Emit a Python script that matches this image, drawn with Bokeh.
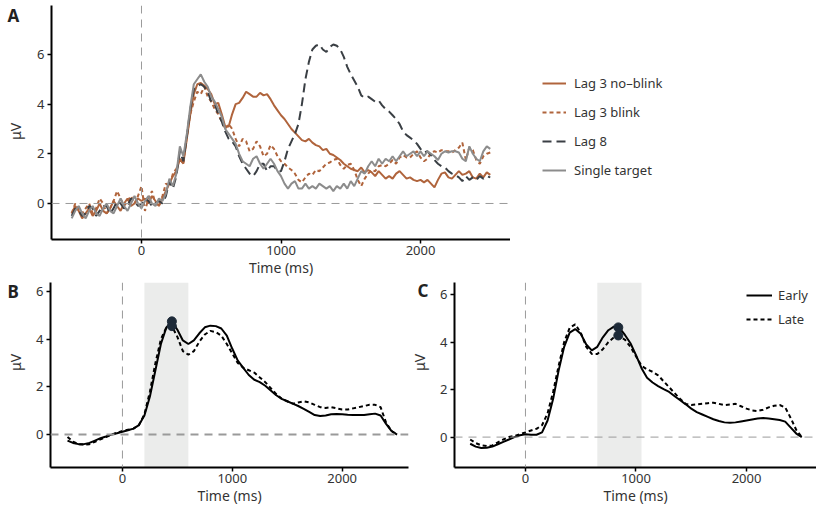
import math
from bokeh.plotting import figure
from bokeh.layouts import column, row
from bokeh.models import Span, Label, Legend, LegendItem, BoxAnnotation, Range1d, FixedTicker
from bokeh.embed import file_html
from bokeh.resources import INLINE

FONT = "Noto Sans"
TXT = "#333333"

# ---------------- Panel A data (25 ms grid, -500..2500) ----------------
time_a = list(range(-500, 2501, 25))

lag3_noblink = [
    -0.4, -0.1, -0.3, -0.6, -0.4, -0.2, -0.5, -0.3, 0.0, -0.3, -0.4, -0.2, 0.1, -0.1, -0.3, 0.0, 0.2, -0.1, 0.0, 0.2,
    0.1, 0.2, 0.0, 0.3, 0.1, -0.1, 0.2, 0.5, 0.8, 1.1, 1.3, 1.8, 1.6, 2.6, 3.6, 4.4, 4.8, 4.85, 4.75, 4.6,
    4.4, 4.0, 4.05, 3.6, 3.1, 3.1, 3.6, 4.0, 4.05, 4.25, 4.5, 4.4, 4.3, 4.3, 4.45, 4.35, 4.4, 4.2, 3.95, 3.75,
    3.55, 3.4, 3.2, 3.0, 2.85, 2.7, 2.55, 2.5, 2.6, 2.45, 2.35, 2.3, 2.15, 2.2, 2.0, 1.95, 1.85, 1.75, 1.6, 1.5,
    1.4, 1.35, 1.3, 1.45, 1.25, 1.35, 1.25, 1.1, 1.3, 1.15, 1.0, 1.1, 1.0, 1.2, 1.3, 1.15, 1.0, 1.05, 0.95, 0.9,
    0.95, 0.85, 0.95, 0.8, 0.65, 0.95, 1.2, 1.25, 1.05, 1.0, 1.15, 1.3, 1.15, 1.2, 1.3, 1.05, 1.0, 1.2, 1.05, 1.25,
    1.15]

lag3_blink = [
    -0.4, 0.0, -0.2, -0.4, -0.2, 0.0, -0.4, -0.2, 0.2, 0.0, -0.4, -0.2, 0.1, 0.5, 0.2, -0.1, 0.1, 0.3, 0.0, 0.3,
    0.7, -0.3, 0.2, 0.5, 0.0, -0.1, 0.3, 0.8, 0.7, 1.2, 1.4, 1.8, 1.6, 2.7, 3.6, 4.1, 4.5, 4.4, 4.7, 4.3,
    4.1, 3.8, 3.6, 3.3, 3.0, 3.2, 3.0, 2.6, 2.3, 2.6, 2.5, 2.1, 2.2, 2.5, 2.3, 1.9, 2.0, 2.35, 2.2, 1.9,
    1.7, 1.6, 1.45, 1.35, 1.2, 0.95, 0.85, 1.05, 1.2, 1.15, 1.35, 1.3, 1.45, 1.6, 1.65, 1.75, 1.8, 1.55, 1.4, 1.55,
    1.6, 1.35, 0.95, 0.7, 1.0, 1.2, 1.35, 1.3, 1.5, 1.55, 1.5, 1.6, 1.75, 1.6, 1.85, 1.95, 1.85, 1.85, 2.0, 2.1,
    1.85, 1.7, 1.8, 2.05, 2.1, 2.05, 2.15, 2.1, 2.1, 2.05, 2.15, 2.25, 2.45, 1.75, 2.25, 2.15, 1.75, 1.6, 1.9, 2.0,
    2.05]

lag8 = [
    -0.5, -0.2, -0.3, -0.5, -0.4, -0.1, -0.2, -0.5, -0.3, -0.1, -0.1, -0.4, -0.2, 0.1, 0.0, -0.2, -0.1, 0.2, 0.1, -0.1,
    0.0, 0.2, 0.1, -0.1, 0.0, 0.1, 0.0, 0.3, 0.9, 0.6, 1.1, 2.1, 1.7, 2.7, 3.8, 4.6, 4.7, 4.8, 4.7, 4.5,
    4.1, 4.0, 3.6, 3.3, 2.9, 2.6, 2.5, 2.3, 1.9, 1.6, 1.4, 1.2, 1.1, 1.3, 1.6, 1.6, 1.3, 1.5, 1.5, 1.3,
    1.3, 1.7, 2.2, 2.5, 2.8, 3.2, 4.0, 5.0, 5.7, 6.2, 6.35, 6.4, 6.2, 6.1, 6.3, 6.4, 6.35, 6.2, 5.9, 5.5,
    5.2, 4.95, 4.7, 4.35, 4.25, 4.3, 4.2, 4.1, 4.15, 3.95, 3.8, 3.7, 3.55, 3.4, 3.2, 2.9, 2.75, 2.65, 2.55, 2.4,
    2.2, 2.05, 2.1, 1.95, 1.75, 1.6, 1.5, 1.45, 1.3, 1.2, 1.15, 1.05, 0.9, 1.1, 0.95, 1.05, 0.95, 1.1, 1.0, 1.1,
    1.05]

single_target = [
    -0.6, -0.3, -0.1, -0.4, -0.6, -0.3, -0.1, -0.4, -0.5, -0.2, 0.0, -0.3, -0.4, -0.1, 0.2, -0.1, -0.3, 0.0, 0.3, 0.0,
    -0.2, 0.1, 0.3, 0.0, -0.1, 0.2, 0.1, 0.4, 1.0, 0.7, 1.2, 2.3, 1.9, 2.8, 3.9, 4.8, 5.0, 5.2, 4.9, 4.7,
    4.3, 4.1, 3.8, 3.5, 3.0, 2.8, 2.6, 2.4, 2.0, 1.7, 1.6, 1.5, 1.8, 1.9, 1.6, 1.4, 1.6, 1.8, 1.6, 1.3,
    1.1, 0.8, 0.6, 0.8, 0.9, 0.6, 0.6, 0.8, 0.6, 0.7, 0.6, 0.8, 0.7, 0.6, 0.7, 0.5, 0.7, 0.6, 0.8, 0.6,
    0.9, 0.7, 1.0, 1.3, 1.2, 1.5, 1.7, 1.5, 1.8, 1.6, 1.8, 1.7, 1.9, 1.7, 1.9, 2.1, 1.9, 2.0, 2.1, 1.9,
    2.1, 1.9, 2.1, 2.0, 1.9, 1.75, 2.0, 2.1, 2.05, 2.1, 2.1, 2.05, 1.8, 1.7, 2.3, 2.0, 1.8, 1.7, 2.1, 2.3,
    2.2]

# ---------------- Panels B and C data (50 ms grid) ----------------
time_bc = list(range(-500, 2501, 50))

b_early = [
    -0.25, -0.35, -0.4, -0.4, -0.35, -0.25, -0.15, -0.08, 0.0, 0.06, 0.12, 0.18, 0.25, 0.4, 0.8, 1.6, 2.7, 3.8, 4.5, 4.75,
    4.4, 3.95, 3.8, 3.95, 4.25, 4.5, 4.57, 4.55, 4.45, 4.15, 3.6, 3.1, 2.8, 2.5, 2.3, 2.2, 2.05, 1.85, 1.65, 1.5,
    1.4, 1.3, 1.2, 1.08, 0.95, 0.82, 0.78, 0.8, 0.85, 0.86, 0.85, 0.83, 0.82, 0.82, 0.82, 0.85, 0.88, 0.8, 0.45, 0.15,
    0.0]
b_late = [
    -0.1, -0.3, -0.4, -0.42, -0.4, -0.3, -0.2, -0.1, 0.0, 0.08, 0.15, 0.2, 0.25, 0.4, 0.85, 1.8, 3.0, 4.0, 4.5, 4.55,
    4.1, 3.5, 3.35, 3.5, 3.9, 4.2, 4.35, 4.3, 4.15, 3.8, 3.4, 3.0, 2.8, 2.7, 2.6, 2.4, 2.2, 1.95, 1.7, 1.5,
    1.4, 1.3, 1.35, 1.4, 1.35, 1.25, 1.15, 1.12, 1.15, 1.1, 1.05, 1.05, 1.1, 1.15, 1.2, 1.25, 1.25, 1.15, 0.5, 0.15,
    0.0]
c_early = [
    -0.28, -0.4, -0.46, -0.45, -0.4, -0.3, -0.2, -0.1, 0.0, 0.08, 0.12, 0.1, 0.1, 0.2, 0.7, 1.6, 2.8, 3.8, 4.4, 4.55,
    4.35, 3.9, 3.65, 3.8, 4.2, 4.5, 4.65, 4.6, 4.3, 3.95, 3.45, 2.9, 2.5, 2.3, 2.15, 2.02, 1.9, 1.72, 1.55, 1.38,
    1.2, 1.05, 0.95, 0.85, 0.75, 0.68, 0.62, 0.6, 0.62, 0.66, 0.7, 0.74, 0.78, 0.8, 0.78, 0.75, 0.72, 0.65, 0.4, 0.15,
    0.0]
c_late = [
    -0.1, -0.25, -0.35, -0.38, -0.35, -0.22, -0.1, 0.0, 0.05, 0.12, 0.2, 0.28, 0.35, 0.5, 1.0, 1.9, 3.0, 4.0, 4.6, 4.75,
    4.4, 3.8, 3.5, 3.5, 3.7, 4.0, 4.2, 4.25, 4.1, 3.8, 3.4, 3.0, 2.85, 2.75, 2.6, 2.35, 2.1, 1.85, 1.6, 1.4,
    1.35, 1.38, 1.4, 1.43, 1.45, 1.4, 1.35, 1.37, 1.4, 1.3, 1.2, 1.12, 1.1, 1.15, 1.25, 1.32, 1.35, 1.25, 0.8, 0.3,
    0.0]

b_window = (200, 600)
b_peak_t = [450, 450]
b_peak_v = [4.75, 4.55]
c_window = (650, 1050)
c_peak_t = [840, 840]
c_peak_v = [4.62, 4.28]

x_ticks = [0, 1000, 2000]
y_ticks = [0, 2, 4, 6]
series_a = ["Lag 3 no\u2013blink", "Lag 3 blink", "Lag 8", "Single target"]
series_bc = ["Early", "Late"]

BROWN = "#b0643c"
DARK = "#3a3f44"
GREY = "#8c8c8c"
ZERO = "#9a9a9a"
STYLE_A = [dict(line_color=BROWN, line_width=2),
           dict(line_color=BROWN, line_width=2, line_dash="4 3"),
           dict(line_color=DARK, line_width=2, line_dash="9 5"),
           dict(line_color=GREY, line_width=2)]

# layout (pixels): row 1 frame spans y 5..239, row 2 frame spans y 282..467
H1, TOP1, BOT1 = 279, 5, 239
H2, TOP2, BOT2 = 228, 282, 467


def style(p):
    p.outline_line_color = None
    p.xgrid.visible = False
    p.ygrid.visible = False
    for ax in (p.xaxis[0], p.yaxis[0]):
        ax.axis_line_width = 2
        ax.axis_line_color = "black"
        ax.major_tick_line_color = "black"
        ax.major_tick_line_width = 1.5
        ax.major_tick_out = 4
        ax.major_tick_in = 0
        ax.minor_tick_line_color = None
        ax.major_label_text_font = FONT
        ax.major_label_text_font_size = "13px"
        ax.major_label_text_color = TXT
        ax.axis_label_text_font = FONT
        ax.axis_label_text_font_size = "14px"
        ax.axis_label_text_font_style = "normal"
        ax.axis_label_text_color = TXT
    p.xaxis.ticker = FixedTicker(ticks=x_ticks)
    p.yaxis.ticker = FixedTicker(ticks=y_ticks)
    p.xaxis.axis_label = "Time (ms)"
    p.xaxis.major_label_standoff = 2
    p.xaxis.axis_label_standoff = 0
    p.yaxis.major_label_standoff = 3


def zero_lines(p, width=1):
    p.add_layout(Span(location=0, dimension="width", line_color=ZERO, line_dash="8 6", line_width=width))
    p.add_layout(Span(location=0, dimension="height", line_color=ZERO, line_dash="8 6", line_width=1))


def blank(w, h, top, bot):
    # frame is aligned with the neighbouring plot's frame; y range in (negated) page pixels
    s = figure(width=w, height=h, output_backend="svg", toolbar_location=None,
               x_range=Range1d(0, w), y_range=Range1d(-bot, -top),
               x_axis_type=None, y_axis_type=None,
               min_border_left=0, min_border_right=0, min_border_top=top if top < 10 else 3,
               min_border_bottom=40)
    s.outline_line_color = None
    s.grid.visible = False
    return s


def side_figure(w, h, top, bot, letter, lx, ly, ux, uy):
    s = blank(w, h, top, bot)
    s.add_layout(Label(x=lx, y=-ly, text=letter, text_font=FONT, text_font_size="17px",
                       text_font_style="bold", text_color="#222222", text_baseline="middle"))
    s.add_layout(Label(x=ux, y=-uy, text="μV", angle=math.pi / 2, text_font=FONT, text_font_size="14px",
                       text_color=TXT, text_align="center", text_baseline="middle"))
    return s


# ---------------- Panel A ----------------
sA = side_figure(33, H1, TOP1, BOT1, "A", 7, 15, 15, 131)
pA = figure(width=477, height=H1, output_backend="svg", toolbar_location=None,
            x_range=Range1d(-645, 2645), y_range=Range1d(-1.45, 7.97),
            min_border_left=18, min_border_right=0, min_border_top=TOP1, min_border_bottom=40)
style(pA)
zero_lines(pA)
for ys, st in zip([lag3_noblink, lag3_blink, lag8, single_target], STYLE_A):
    pA.line(time_a, ys, **st)

# legend of panel A in its own area to the right of the plot (series drawn off-range, only legend shows)
lA = blank(306, H1, TOP1, BOT1)
legend_renderers = [lA.line(time_a, ys, **st)
                    for ys, st in zip([lag3_noblink, lag3_blink, lag8, single_target], STYLE_A)]
legA = Legend(items=[LegendItem(label=lab, renderers=[r]) for lab, r in zip(series_a, legend_renderers)],
              location=(32, 59), border_line_color=None, background_fill_alpha=0,
              label_text_font=FONT, label_text_font_size="13px", label_text_color=TXT,
              glyph_width=24, glyph_height=20, label_height=20, spacing=9, padding=0, margin=0,
              label_standoff=8)
lA.add_layout(legA, "center")

# ---------------- Panel B ----------------
sB = side_figure(33, H2, TOP2, BOT2, "B", 7, 291, 15, 362)
pB = figure(width=377, height=H2, output_backend="svg", toolbar_location=None,
            x_range=Range1d(-655, 2604), y_range=Range1d(-1.38, 6.38),
            min_border_left=17, min_border_right=2, min_border_top=3, min_border_bottom=40)
style(pB)
pB.add_layout(BoxAnnotation(left=b_window[0], right=b_window[1], fill_color="#ebeceb",
                            fill_alpha=1, line_color=None, level="underlay"))
zero_lines(pB, width=2)
pB.line(time_bc, b_early, line_color="black", line_width=2)
pB.line(time_bc, b_late, line_color="black", line_width=2, line_dash="4 3")
pB.scatter(b_peak_t, b_peak_v, size=9, fill_color="#1d2a38", line_color="#1d2a38")

# ---------------- Panel C ----------------
sC = side_figure(22, H2, TOP2, BOT2, "C", 7, 290, 9, 362)
pC = figure(width=384, height=H2, output_backend="svg", toolbar_location=None,
            x_range=Range1d(-642, 2633), y_range=Range1d(-1.28, 6.51),
            min_border_left=22, min_border_right=0, min_border_top=3, min_border_bottom=40)
style(pC)
pC.add_layout(BoxAnnotation(left=c_window[0], right=c_window[1], fill_color="#ebeceb",
                            fill_alpha=1, line_color=None, level="underlay"))
zero_lines(pC)
rC1 = pC.line(time_bc, c_early, line_color="black", line_width=2)
rC2 = pC.line(time_bc, c_late, line_color="black", line_width=2, line_dash="4 3")
pC.scatter(c_peak_t, c_peak_v, size=9, fill_color="#1d2a38", line_color="#1d2a38")
legC = Legend(items=[LegendItem(label=series_bc[0], renderers=[rC1]),
                     LegendItem(label=series_bc[1], renderers=[rC2])],
              location=(292, 139), border_line_color=None, background_fill_alpha=0,
              label_text_font=FONT, label_text_font_size="13px", label_text_color=TXT,
              glyph_width=26, glyph_height=18, label_height=18, spacing=6, padding=0, margin=0,
              label_standoff=6)
pC.add_layout(legC, "center")

layout = column(row(sA, pA, lA), row(sB, pB, sC, pC))
open("out.html", "w").write(file_html(layout, INLINE))
